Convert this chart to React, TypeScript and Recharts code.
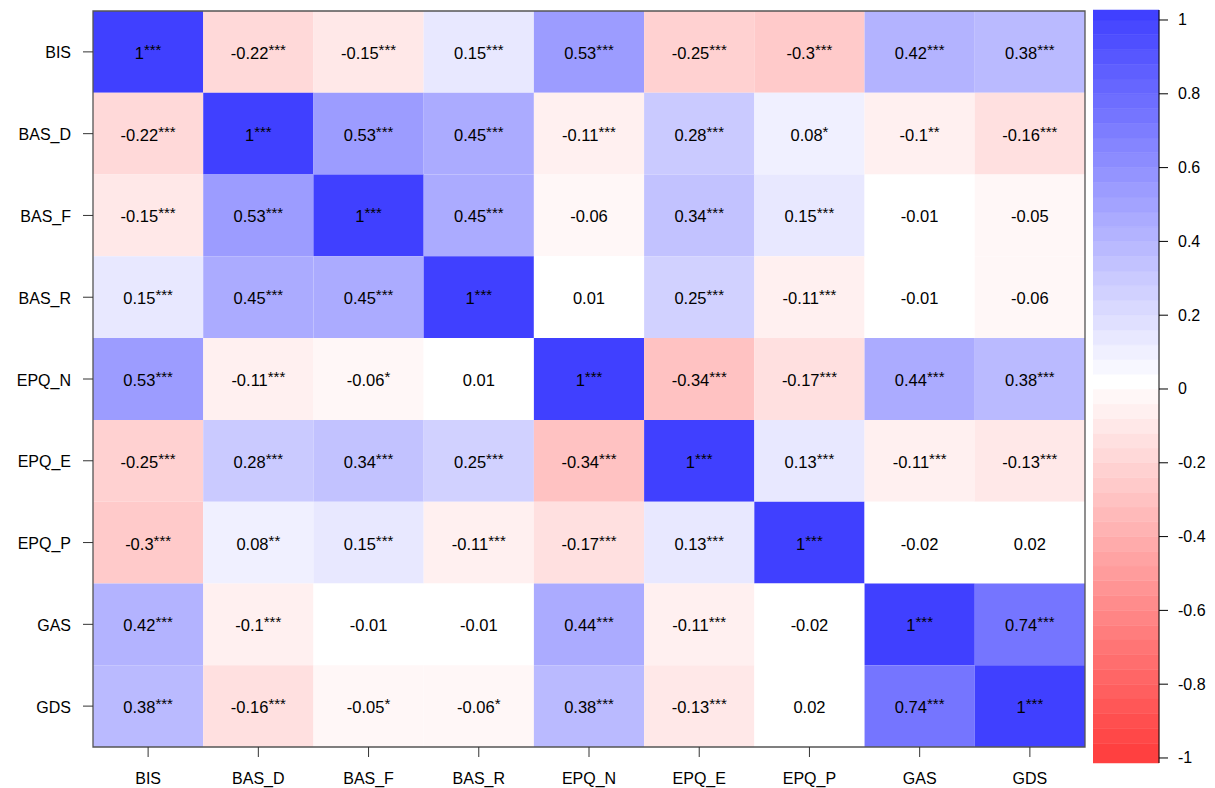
import React from "react";
import { ScatterChart, Scatter, XAxis, YAxis, ReferenceArea } from "recharts";

const variables = ["BIS", "BAS_D", "BAS_F", "BAS_R", "EPQ_N", "EPQ_E", "EPQ_P", "GAS", "GDS"];

const corrBIS = [1, -0.22, -0.15, 0.15, 0.53, -0.25, -0.3, 0.42, 0.38];
const corrBAS_D = [-0.22, 1, 0.53, 0.45, -0.11, 0.28, 0.08, -0.1, -0.16];
const corrBAS_F = [-0.15, 0.53, 1, 0.45, -0.06, 0.34, 0.15, -0.01, -0.05];
const corrBAS_R = [0.15, 0.45, 0.45, 1, 0.01, 0.25, -0.11, -0.01, -0.06];
const corrEPQ_N = [0.53, -0.11, -0.06, 0.01, 1, -0.34, -0.17, 0.44, 0.38];
const corrEPQ_E = [-0.25, 0.28, 0.34, 0.25, -0.34, 1, 0.13, -0.11, -0.13];
const corrEPQ_P = [-0.3, 0.08, 0.15, -0.11, -0.17, 0.13, 1, -0.02, 0.02];
const corrGAS = [0.42, -0.1, -0.01, -0.01, 0.44, -0.11, -0.02, 1, 0.74];
const corrGDS = [0.38, -0.16, -0.05, -0.06, 0.38, -0.13, 0.02, 0.74, 1];

const starsBIS = ["***", "***", "***", "***", "***", "***", "***", "***", "***"];
const starsBAS_D = ["***", "***", "***", "***", "***", "***", "*", "**", "***"];
const starsBAS_F = ["***", "***", "***", "***", "", "***", "***", "", ""];
const starsBAS_R = ["***", "***", "***", "***", "", "***", "***", "", ""];
const starsEPQ_N = ["***", "***", "*", "", "***", "***", "***", "***", "***"];
const starsEPQ_E = ["***", "***", "***", "***", "***", "***", "***", "***", "***"];
const starsEPQ_P = ["***", "**", "***", "***", "***", "***", "***", "", ""];
const starsGAS = ["***", "***", "", "", "***", "***", "", "***", "***"];
const starsGDS = ["***", "***", "*", "*", "***", "***", "", "***", "***"];

const colorbarTicks = [-1, -0.8, -0.6, -0.4, -0.2, 0, 0.2, 0.4, 0.6, 0.8, 1];

const corrRows = [corrBIS, corrBAS_D, corrBAS_F, corrBAS_R, corrEPQ_N, corrEPQ_E, corrEPQ_P, corrGAS, corrGDS];
const starRows = [starsBIS, starsBAS_D, starsBAS_F, starsBAS_R, starsEPQ_N, starsEPQ_E, starsEPQ_P, starsGAS, starsGDS];

const FONT = "'Liberation Sans', Arial, sans-serif";
const BIN = 0.04;

function colorOf(v: number): string {
  const c = Math.max(-1, Math.min(1, v));
  if (c >= 0) {
    const g = Math.round(255 - c * 191);
    return `rgb(${g},${g},255)`;
  }
  const g = Math.round(255 + c * 191);
  return `rgb(255,${g},${g})`;
}

function cellColor(v: number): string {
  const q = Math.sign(v) * Math.floor(Math.abs(v) / BIN + 1e-9) * BIN;
  return colorOf(q);
}

const cells = corrRows.flatMap((row, r) =>
  row.map((v, c) => ({ x: c, y: r, v, s: starRows[r][c] }))
);

const CB_MIN = -1.0136;
const CB_MAX = 1.0271;
const bands: { lo: number; hi: number; color: string }[] = [];
for (let k = -26; k <= 25; k++) {
  const lo = Math.max(k * BIN, CB_MIN);
  const hi = Math.min((k + 1) * BIN, CB_MAX);
  if (hi > lo) bands.push({ lo, hi, color: colorOf(k * BIN) });
}
const bandCenters = bands.map((b) => ({ x: 0.5, y: (b.lo + b.hi) / 2 }));

const fmt = (v: number) => String(v);

const CellLabel = (props: any) => {
  const { cx, cy, payload } = props;
  if (cx == null || cy == null) return null;
  return (
    <text x={cx} y={cy + 1} textAnchor="middle" dominantBaseline="central" fontFamily={FONT} fontSize={16.5} fill="#000">
      <tspan>{fmt(payload.v)}</tspan>
      {payload.s ? (
        <tspan fontSize={15} dy={-4}>{payload.s}</tspan>
      ) : null}
    </text>
  );
};

const Empty = () => <g />;

const XTick = (props: any) => {
  const { x, y, payload } = props;
  return (
    <text x={x} y={y + 19} textAnchor="middle" dominantBaseline="central" fontFamily={FONT} fontSize={16} fill="#000">
      {variables[payload.value]}
    </text>
  );
};

const YTick = (props: any) => {
  const { x, y, payload } = props;
  return (
    <text x={x - 10} y={y + 1} textAnchor="end" dominantBaseline="central" fontFamily={FONT} fontSize={16} fill="#000">
      {variables[payload.value]}
    </text>
  );
};

const CBTick = (props: any) => {
  const { x, y, payload } = props;
  return (
    <text x={x + 8} y={y} textAnchor="start" dominantBaseline="central" fontFamily={FONT} fontSize={16} fill="#000">
      {String(payload.value)}
    </text>
  );
};

const idx = variables.map((_, i) => i);

export default function App() {
  return (
    <div style={{ position: "absolute", left: 0, top: 0, width: 1215, height: 788, background: "#fff" }}>
      <div style={{ position: "absolute", left: 0, top: 0 }}>
        <ScatterChart width={1095} height={788} margin={{ top: 11, right: 10, bottom: 0, left: 0 }}>
          <XAxis
            type="number"
            dataKey="x"
            domain={[-0.5, 8.5]}
            ticks={idx}
            interval={0}
            axisLine={false}
            tickSize={10}
            tickLine={{ stroke: "#333" }}
            height={41}
            tick={<XTick />}
          />
          <YAxis
            type="number"
            dataKey="y"
            domain={[-0.5, 8.5]}
            reversed
            ticks={idx}
            interval={0}
            axisLine={false}
            tickSize={10}
            tickLine={{ stroke: "#333" }}
            width={93}
            tick={<YTick />}
          />
          {cells.map((d) => (
            <ReferenceArea
              key={`c${d.x}-${d.y}`}
              x1={d.x - 0.5}
              x2={d.x + 0.5}
              y1={d.y - 0.5}
              y2={d.y + 0.5}
              fill={cellColor(d.v)}
              fillOpacity={1}
              stroke="none"
              ifOverflow="visible"
            />
          ))}
          <ReferenceArea
            x1={-0.5}
            x2={8.5}
            y1={-0.5}
            y2={8.5}
            fill="none"
            fillOpacity={0}
            stroke="#555"
            strokeWidth={1.3}
            ifOverflow="visible"
          />
          <Scatter data={cells} shape={<CellLabel />} isAnimationActive={false} />
        </ScatterChart>
      </div>
      <div style={{ position: "absolute", left: 1093, top: 0 }}>
        <ScatterChart width={120} height={788} margin={{ top: 10, right: 0, bottom: 25, left: 0 }}>
          <XAxis type="number" dataKey="x" domain={[0, 1]} hide />
          <YAxis
            type="number"
            dataKey="y"
            orientation="right"
            domain={[CB_MIN, CB_MAX]}
            allowDataOverflow
            ticks={colorbarTicks}
            interval={0}
            width={54}
            tickSize={9}
            axisLine={{ stroke: "#000" }}
            tickLine={{ stroke: "#000" }}
            tick={<CBTick />}
          />
          {bands.map((b, i) => (
            <ReferenceArea
              key={`b${i}`}
              x1={0}
              x2={1}
              y1={b.lo}
              y2={b.hi}
              fill={b.color}
              fillOpacity={1}
              stroke={b.color}
              strokeWidth={0.5}
              ifOverflow="visible"
            />
          ))}
          <Scatter data={bandCenters} shape={<Empty />} isAnimationActive={false} />
        </ScatterChart>
      </div>
    </div>
  );
}
